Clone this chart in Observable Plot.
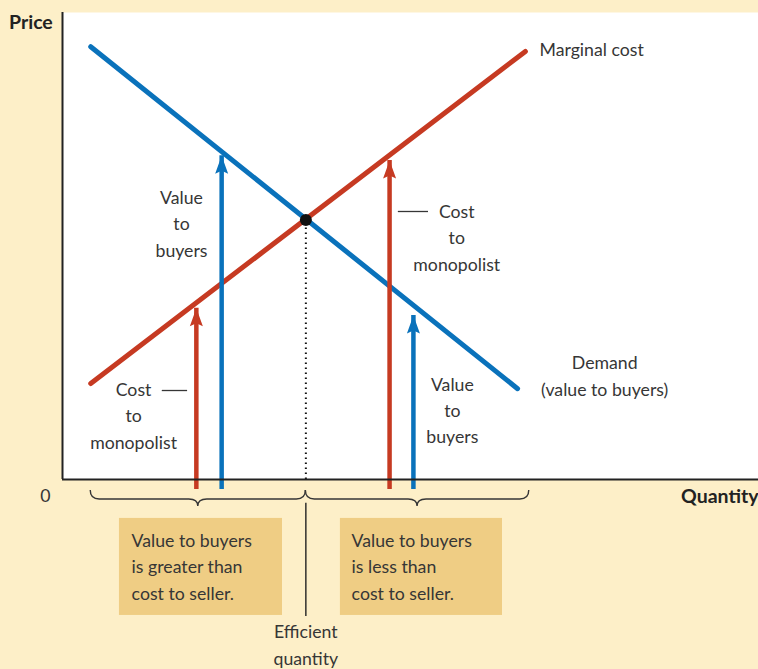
<!DOCTYPE html>
<html><head><meta charset="utf-8">
<script src="https://cdn.jsdelivr.net/npm/d3@7"></script>
<script src="https://cdn.jsdelivr.net/npm/@observablehq/plot@0.6"></script>
<style>
html,body{margin:0;padding:0;background:#fdefc8;}
#chart svg{display:block;}
</style></head><body><div id="chart"></div>
<script>
// ---- data ----
const demandQ = [0.58, 9.35];
const demandP = [8.34, 1.75];
const mcQ = [0.58, 9.51];
const mcP = [1.85, 8.25];
const efficientQ = [5.0];
const efficientP = [5.0];
const arrowQ = [2.75, 3.27, 6.72, 7.21];
const arrowTop = [3.30, 6.24, 6.15, 3.16];
const arrowKind = ["cost", "value", "cost", "value"];
const braceFrom = [0.58, 5.0];
const braceTo = [5.0, 9.59];
const boxTexts = ["Value to buyers\nis greater than\ncost to seller.", "Value to buyers\nis less than\ncost to seller."];

// ---- styles ----
const BLUE = "#0a72bb", RED = "#c63a22", TEXT = "#363636", CREAM = "#fdefc8", BOX = "#efcd84";
const FONT = "Lato, 'Open Sans', sans-serif";

const demand = demandQ.map((q, i) => ({q, p: demandP[i]}));
const mc = mcQ.map((q, i) => ({q, p: mcP[i]}));
const eff = efficientQ.map((q, i) => ({q, p: efficientP[i]}));
const arrows = arrowQ.map((q, i) => ({q, top: arrowTop[i], color: arrowKind[i] === "cost" ? RED : BLUE}));
const braces = braceFrom.map((a, i) => ({a, b: braceTo[i]}));

const arrowHead = {
  draw(ctx) {
    ctx.moveTo(0, 0);
    ctx.lineTo(6.5, 18);
    ctx.lineTo(0, 15);
    ctx.lineTo(-6.5, 18);
    ctx.closePath();
  }
};

function braceMark(index, scales) {
  const g = d3.create("svg:g");
  const yTop = scales.y(0) + 11, yMid = yTop + 9, yTip = yTop + 16, r = 9;
  for (const {a, b} of braces) {
    const x1 = scales.x(a), x2 = scales.x(b), xm = (x1 + x2) / 2;
    const path = `M${x1},${yTop} Q${x1},${yMid} ${x1 + r},${yMid} L${xm - r},${yMid} Q${xm},${yMid} ${xm},${yTip} Q${xm},${yMid} ${xm + r},${yMid} L${x2 - r},${yMid} Q${x2},${yMid} ${x2},${yTop}`;
    g.append("path").attr("d", path).attr("fill", "none").attr("stroke", TEXT).attr("stroke-width", 1.4);
  }
  return g.node();
}

const txt = {fill: TEXT, fontSize: 17.7, fontFamily: FONT, lineHeight: 1.49, dy: -3};
const bold = {fontWeight: "bold", fill: "#222", fontSize: 19.5, fontFamily: FONT, dy: 0};

const chart = Plot.plot({
  width: 758,
  height: 669,
  marginLeft: 62,
  marginRight: 0,
  marginTop: 12,
  marginBottom: 190,
  style: {background: CREAM, fontFamily: FONT, overflow: "visible"},
  x: {domain: [0, 14.3], axis: null},
  y: {domain: [0, 9], axis: null},
  color: {type: "identity"},
  marks: [
    Plot.frame({fill: "white", stroke: "none"}),
    // efficient quantity dotted line
    Plot.ruleX(eff, {x: "q", y1: 0, y2: "p", stroke: "#111", strokeWidth: 2, strokeDasharray: "1.6,3.4"}),
    // curves
    Plot.line(mc, {x: "q", y: "p", stroke: RED, strokeWidth: 5, strokeLinecap: "round"}),
    Plot.line(demand, {x: "q", y: "p", stroke: BLUE, strokeWidth: 5, strokeLinecap: "round"}),
    // arrows
    Plot.ruleX(arrows, {x: "q", y1: 0, y2: "top", stroke: "color", strokeWidth: 4.5, insetTop: 10}),
    Plot.dot(arrows, {x: "q", y: "top", symbol: arrowHead, fill: "color", stroke: "none", r: 5}),
    Plot.dot(eff, {x: "q", y: "p", r: 6, fill: "#111"}),
    // axes
    Plot.ruleX([0], {stroke: "#222", strokeWidth: 2}),
    Plot.ruleY([0], {stroke: "#222", strokeWidth: 2}),
    // labels inside the plot
    Plot.text(["Marginal cost"], {x: 9.80, y: 8.27, textAnchor: "start", ...txt}),
    Plot.text(["Demand\n(value to buyers)"], {x: 11.14, y: 1.975, ...txt}),
    Plot.text(["Value\nto\nbuyers"], {x: 2.445, y: 4.91, ...txt}),
    Plot.text(["Value\nto\nbuyers"], {x: 8.01, y: 1.31, ...txt}),
    Plot.text(["Cost\nto\nmonopolist"], {x: 8.10, y: 4.64, ...txt}),
    Plot.text(["Cost\nto\nmonopolist"], {x: 1.46, y: 1.21, ...txt}),
    Plot.ruleY([5.165], {x1: 6.90, x2: 7.52, stroke: TEXT, strokeWidth: 1.3}),
    Plot.ruleY([1.715], {x1: 2.05, x2: 2.57, stroke: TEXT, strokeWidth: 1.3}),
    // axis labels
    Plot.text(["Price"], {x: -0.2, y: 8.81, textAnchor: "end", ...bold}),
    Plot.text(["Quantity"], {x: 14.3, y: -0.33, textAnchor: "end", ...bold}),
    Plot.text(["0"], {x: -0.35, y: -0.33, ...txt}),
    // below-axis annotations
    braceMark,
    Plot.rect([0], {x1: 1.17, x2: 4.52, y1: -0.75, y2: -2.62, fill: BOX}),
    Plot.rect([0], {x1: 5.71, x2: 9.04, y1: -0.75, y2: -2.62, fill: BOX}),
    Plot.text([boxTexts[0]], {x: 1.42, y: -1.70, textAnchor: "start", ...txt}),
    Plot.text([boxTexts[1]], {x: 5.94, y: -1.70, textAnchor: "start", ...txt}),
    Plot.ruleX(eff, {x: "q", y1: -0.46, y2: -2.64, stroke: "#222", strokeWidth: 1.4}),
    Plot.text(["Efficient\nquantity"], {x: 5, y: -3.21, ...txt})
  ]
});
document.getElementById("chart").appendChild(chart);
</script>
</body></html>
